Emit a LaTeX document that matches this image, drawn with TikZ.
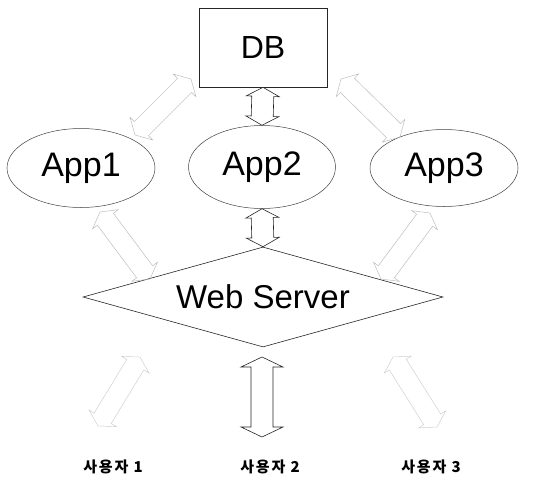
\documentclass[tikz,border=0pt]{standalone}
\usepackage{fontspec}
\setmainfont{Liberation Sans}
\newfontfamily\krfont{Noto Sans CJK KR}[LetterSpace=12]
\usetikzlibrary{shapes.geometric,calc}
\newcommand\hdarrow[6][]{%
  \draw[#1] (#2)
    -- ($(#2)!#6!(#3)!#5!90:(#3)$) -- ($(#2)!#6!(#3)!#4!90:(#3)$)
    -- ($(#3)!#6!(#2)!#4!-90:(#2)$) -- ($(#3)!#6!(#2)!#5!-90:(#2)$)
    -- (#3)
    -- ($(#3)!#6!(#2)!#5!90:(#2)$) -- ($(#3)!#6!(#2)!#4!90:(#2)$)
    -- ($(#2)!#6!(#3)!#4!-90:(#3)$) -- ($(#2)!#6!(#3)!#5!-90:(#3)$)
    -- cycle;}
\tikzset{
  box/.style={draw=black!85, line width=0.6pt, inner sep=0pt},
  appnode/.style={ellipse, draw=black!75, line width=0.5pt, inner sep=0pt, font=\fontsize{34}{40}\selectfont},
  solidarr/.style={draw=black!85, line width=0.6pt, fill=white},
  faintarr/.style={draw=gray!55, line width=0.45pt},
  fainterarr/.style={draw=gray!40, line width=0.45pt},
  userlabel/.style={font=\krfont\bfseries\fontsize{15}{17}\selectfont, inner sep=0pt}
}
\begin{document}
\begin{tikzpicture}[x=1pt,y=-1pt]
\useasboundingbox (0,0) rectangle (539,477);
\node[box, minimum width=128pt, minimum height=79pt, font=\fontsize{32}{38}\selectfont] (DB) at (263,47.5) {DB};
\node[appnode, minimum width=148pt, minimum height=79pt] (App1) at (81,168) {App1};
\node[appnode, minimum width=147pt, minimum height=83pt] (App2) at (262,167) {App2};
\node[appnode, minimum width=148pt, minimum height=77pt] (App3) at (444,168) {App3};
\node[diamond, aspect=3.6, draw=black!85, line width=0.6pt, inner sep=0pt, minimum width=360pt, minimum height=100pt, font=\fontsize{33}{40}\selectfont] (Web) at (263,297) {Web Server};
\node[userlabel] (U1) at (113,467) {사용자 1};
\node[userlabel] (U2) at (270,467) {사용자 2};
\node[userlabel] (U3) at (431,467) {사용자 3};
% end points of the free connectors
\coordinate (a1t) at (135,135);
\coordinate (a1h) at (191,79);
\coordinate (a3t) at (400,137);
\coordinate (a3h) at (341,79);
\coordinate (b1t) at (100,212);
\coordinate (b1h) at (150,279);
\coordinate (b3t) at (430,213);
\coordinate (b3h) at (381,279);
\coordinate (u1t) at (140,357);
\coordinate (u1h) at (98,426);
\coordinate (u3t) at (393,357);
\coordinate (u3h) at (437,427);
\coordinate (w2t) at (262,357);
\coordinate (w2h) at (262,437);
% solid connectors
\hdarrow[solidarr]{DB.south}{App2.north}{11pt}{16.5pt}{9pt}
\hdarrow[solidarr]{App2.south}{Web.north}{11pt}{16.5pt}{9pt}
\hdarrow[solidarr]{w2t}{w2h}{11pt}{21pt}{10pt}
% faint connectors
\hdarrow[faintarr]{a1t}{a1h}{10pt}{16pt}{9pt}
\hdarrow[faintarr]{a3t}{a3h}{10pt}{16pt}{9pt}
\hdarrow[faintarr]{b1t}{b1h}{10pt}{16pt}{9pt}
\hdarrow[faintarr]{b3t}{b3h}{10pt}{16pt}{9pt}
\hdarrow[fainterarr]{u1t}{u1h}{10pt}{16pt}{9pt}
\hdarrow[fainterarr]{u3t}{u3h}{10pt}{16pt}{9pt}
\end{tikzpicture}
\end{document}
